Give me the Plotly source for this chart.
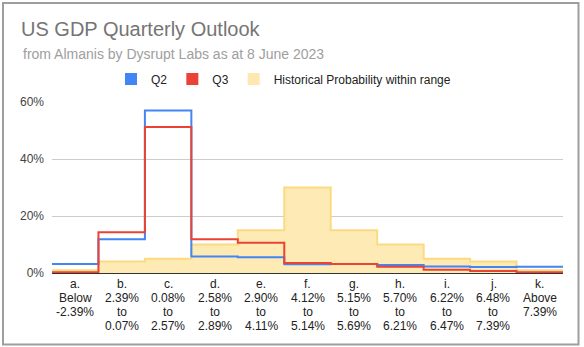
import plotly.graph_objects as go
import numpy as np

# ---- data ----
tick_labels = [
    "a.<br>Below<br>-2.39%",
    "b.<br>2.39%<br>to<br>0.07%",
    "c.<br>0.08%<br>to<br>2.57%",
    "d.<br>2.58%<br>to<br>2.89%",
    "e.<br>2.90%<br>to<br>4.11%",
    "f.<br>4.12%<br>to<br>5.14%",
    "g.<br>5.15%<br>to<br>5.69%",
    "h.<br>5.70%<br>to<br>6.21%",
    "i.<br>6.22%<br>to<br>6.47%",
    "j.<br>6.48%<br>to<br>7.39%",
    "k.<br>Above<br>7.39%",
]
q2 = [3.2, 11.8, 57.0, 5.8, 5.5, 3.1, 3.2, 2.8, 2.3, 2.1, 2.2]
q3 = [0.3, 14.3, 51.2, 11.8, 10.6, 3.5, 3.2, 2.2, 1.1, 0.7, 0.3]
historical = [1, 4, 5, 10, 15, 30, 15, 10, 5, 4, 1]
y_ticks = [0, 20, 40, 60]
y_tick_text = [f"{v}%" for v in y_ticks]

FONT = "Liberation Sans, Arial, sans-serif"
W, H = 584, 347
L, R, T, B = 52, 21, 102, 74
PH = H - T - B
PW = W - L - R

n = len(tick_labels)
edges = np.arange(n + 1)


def step(vals):
    return list(vals) + [vals[-1]]


fig = go.Figure()

fig.add_trace(go.Scatter(
    x=edges, y=step(historical), mode="lines", line_shape="hv",
    line=dict(color="#FCDA80", width=2), fill="tozeroy",
    fillcolor="#FEEAB4", showlegend=False, hoverinfo="skip"))
fig.add_trace(go.Scatter(
    x=edges, y=step(q2), mode="lines", line_shape="hv",
    line=dict(color="#4285F4", width=2), showlegend=False))
fig.add_trace(go.Scatter(
    x=edges, y=step(q3), mode="lines", line_shape="hv",
    line=dict(color="#EA4335", width=2), showlegend=False))

# legend entries
for name, col in [("Q2", "#4285F4"), ("Q3", "#EA4335"),
                  ("Historical Probability within range", "#FEE8B0")]:
    fig.add_trace(go.Scatter(x=[None], y=[None], mode="markers", name=name,
                             marker=dict(symbol="square", size=12, color=col)))

# category labels (one annotation per text line)
base_px = 288.5
line_px = 13.8
for i, lab in enumerate(tick_labels):
    for j, part in enumerate(lab.split("<br>")):
        baseline = base_px + j * line_px
        centre = baseline - 4.2
        fig.add_annotation(
            x=i + 0.5, xref="x", y=(T + PH - centre) / PH, yref="paper",
            text=part, showarrow=False, xanchor="center", yanchor="middle",
            font=dict(family=FONT, size=12, color="#222222"), borderpad=0)

# subtitle
fig.add_annotation(
    x=(21.5 - L) / PW, xref="paper", y=(T + PH - 54.2) / PH, yref="paper",
    text="from Almanis by Dysrupt Labs as at 8 June 2023", showarrow=False,
    xanchor="left", yanchor="middle",
    font=dict(family=FONT, size=14, color="#9E9E9E"), borderpad=0)

# outer border
fig.add_shape(type="rect", xref="paper", yref="paper",
              x0=(3 - L) / PW, x1=(578.5 - L) / PW,
              y0=(T + PH - 344.5) / PH, y1=(T + PH - 3) / PH,
              line=dict(color="#9E9E9E", width=2), layer="above")

fig.update_layout(
    width=W, height=H,
    margin=dict(l=L, r=R, t=T, b=B, pad=0),
    paper_bgcolor="white", plot_bgcolor="white",
    font=dict(family=FONT, size=12, color="#222222"),
    title=dict(text="US GDP Quarterly Outlook", x=21 / W, xref="container",
               xanchor="left", y=1 - 28.7 / H, yref="container",
               yanchor="middle",
               font=dict(family=FONT, size=20, color="#757575")),
    legend=dict(orientation="h", x=(111 - L) / PW, xanchor="left",
                y=(T + PH - 79) / PH, yanchor="middle",
                font=dict(family=FONT, size=12, color="#222222"),
                bgcolor="rgba(0,0,0,0)", borderwidth=0),
    xaxis=dict(range=[0, n], showgrid=False, zeroline=False,
               showticklabels=False, showline=True, linecolor="#333333",
               linewidth=1, ticks="", fixedrange=True),
    yaxis=dict(range=[0, 60], tickvals=y_ticks, ticktext=y_tick_text,
               showgrid=True, gridcolor="#CCCCCC", gridwidth=1,
               zeroline=False, showline=False, ticks="",
               ticklabelstandoff=7,
               tickfont=dict(family=FONT, size=12, color="#444444")),
    hovermode=False,
)

fig.write_html("out.html")
